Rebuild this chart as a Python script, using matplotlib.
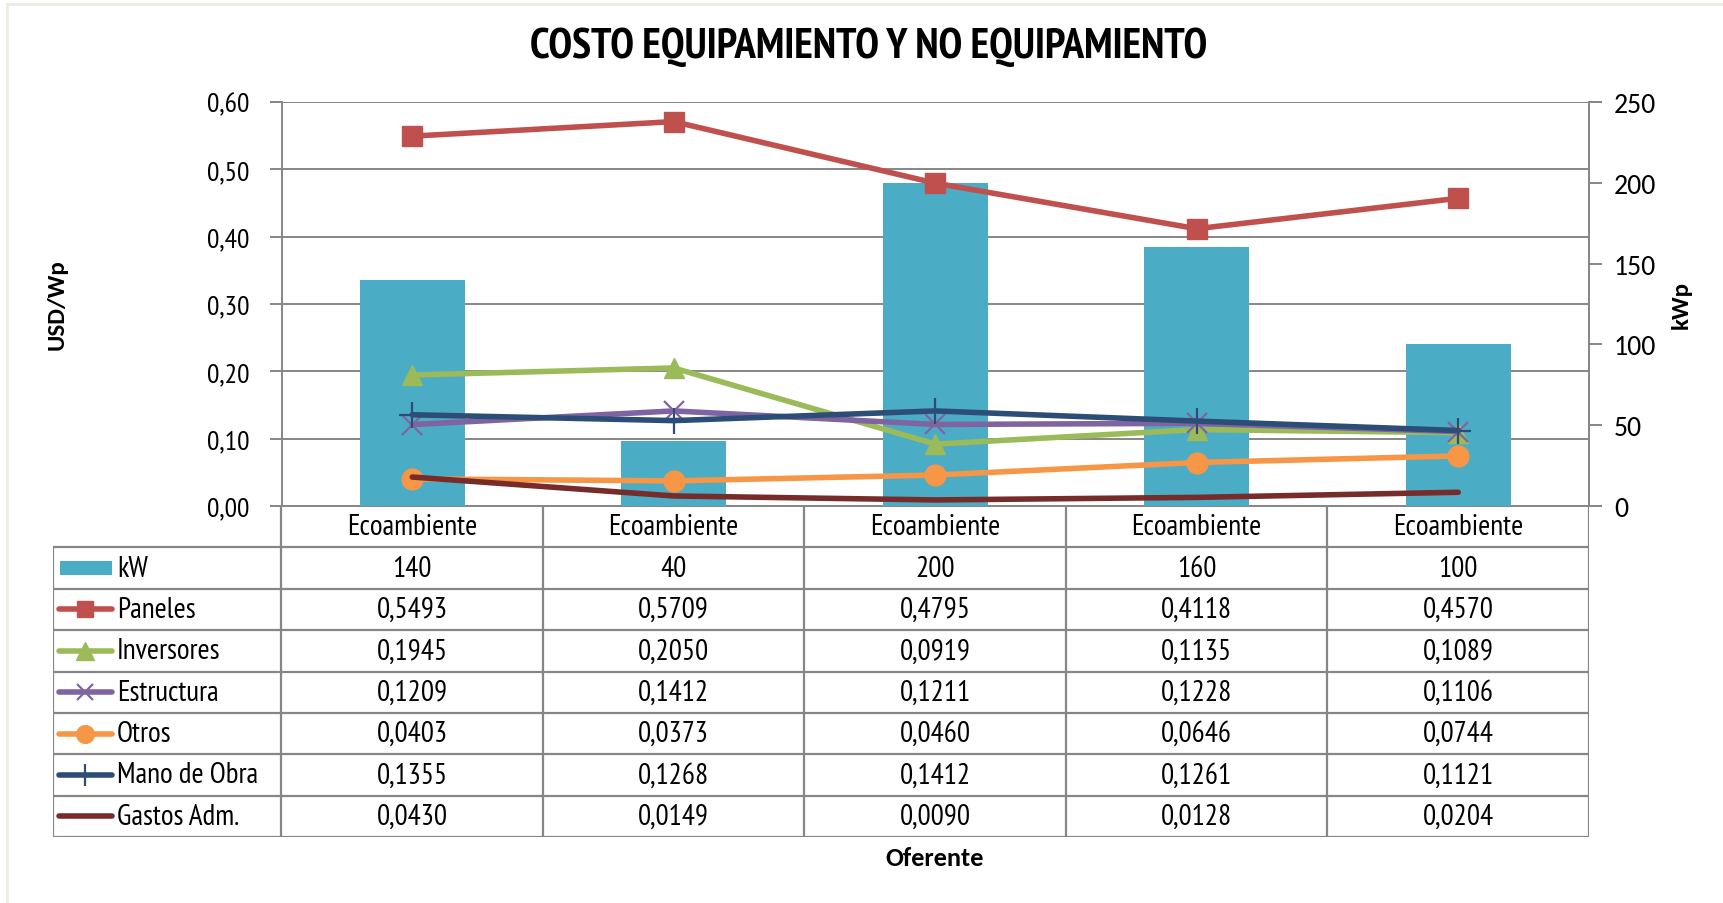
import matplotlib
matplotlib.use('Agg')
from matplotlib import pyplot as plt
from matplotlib import font_manager
from matplotlib.patches import Rectangle
from matplotlib.lines import Line2D
from matplotlib.ticker import FuncFormatter, MultipleLocator
import numpy as np

# data
categories = ['Ecoambiente', 'Ecoambiente', 'Ecoambiente', 'Ecoambiente', 'Ecoambiente']
kw = [140, 40, 200, 160, 100]
paneles = [0.5493, 0.5709, 0.4795, 0.4118, 0.4570]
inversores = [0.1945, 0.2050, 0.0919, 0.1135, 0.1089]
estructura = [0.1209, 0.1412, 0.1211, 0.1228, 0.1106]
otros = [0.0403, 0.0373, 0.0460, 0.0646, 0.0744]
mano_obra = [0.1355, 0.1268, 0.1412, 0.1261, 0.1121]
gastos = [0.0430, 0.0149, 0.0090, 0.0128, 0.0204]

series = [
    ('Paneles', paneles, '#C0504D', 's', 14, 1.0),
    ('Inversores', inversores, '#9BBB59', '^', 15, 1.0),
    ('Estructura', estructura, '#8064A2', 'x', 14, 1.6),
    ('Otros', otros, '#F79646', 'o', 15, 1.0),
    ('Mano de Obra', mano_obra, '#2C4D75', '+', 19, 1.6),
    ('Gastos Adm.', gastos, '#772C2A', None, 0, 1.0),
]
bar_color = '#4BACC6'
grid_color = '#868686'

installed = set(f.name for f in font_manager.fontManager.ttflist)


def pick(prefs):
    for p in prefs:
        if p in installed:
            return p
    return 'DejaVu Sans'


narrow = pick(['PT Sans Narrow', 'Roboto Condensed', 'Archivo Narrow', 'Liberation Sans Narrow',
               'IBM Plex Sans Condensed', 'Open Sans Condensed'])
wide = pick(['Carlito', 'Open Sans', 'Liberation Sans'])

W, H = 1724, 904
fig = plt.figure(figsize=(W / 100, H / 100), dpi=100)
fig.patch.set_facecolor('white')

# faint outer frame (top and left edges visible)
fig.add_artist(Line2D([7 / W, 1], [1 - 5 / H, 1 - 5 / H], color='#EEECE1', lw=2))
fig.add_artist(Line2D([7 / W, 7 / W], [0, 1 - 5 / H], color='#EEECE1', lw=2))

left, right, top, bottom = 281.5, 1589, 103, 507
ax = fig.add_axes([left / W, 1 - bottom / H, (right - left) / W, (bottom - top) / H])
x = np.arange(len(categories))

# grid / left axis
ax.set_xlim(-0.5, len(categories) - 0.5)
ax.set_ylim(0, 0.6)
ax.yaxis.set_major_locator(MultipleLocator(0.1))
ax.yaxis.set_major_formatter(FuncFormatter(lambda v, p: f'{v:.2f}'.replace('.', ',')))
ax.grid(axis='y', color=grid_color, lw=1.4)
ax.set_axisbelow(True)
ax.set_xticks([])
for s in ['top', 'right']:
    ax.spines[s].set_visible(False)
for s in ['left', 'bottom']:
    ax.spines[s].set_color(grid_color)
    ax.spines[s].set_linewidth(1.4)
ax.tick_params(axis='y', length=9, width=1.4, color=grid_color, pad=14, labelsize=20)
for t in ax.get_yticklabels():
    t.set_family(narrow)
ax.set_ylabel('USD/Wp', fontsize=18, fontweight='bold', family=wide, labelpad=0)
ax.yaxis.set_label_coords(-(left - 68) / (right - left), 0.5)

# bars on secondary axis
ax2 = ax.twinx()
ax2.bar(x, kw, width=0.4, color=bar_color, zorder=2)
ax2.set_ylim(0, 250)
ax2.yaxis.set_major_locator(MultipleLocator(50))
for s in ['top', 'left', 'bottom']:
    ax2.spines[s].set_visible(False)
ax2.spines['right'].set_color(grid_color)
ax2.spines['right'].set_linewidth(1.4)
ax2.tick_params(axis='y', length=9, width=1.4, color=grid_color, pad=9, labelsize=20)
for t in ax2.get_yticklabels():
    t.set_family(wide)
ax2.set_ylabel('kWp', fontsize=18, fontweight='bold', family=wide, rotation=90)
ax2.yaxis.set_label_coords(1 + (1671 - right) / (right - left), 0.5)

# lines on top
ax3 = ax.twinx()
ax3.set_ylim(0, 0.6)
ax3.set_xlim(ax.get_xlim())
ax3.axis('off')
for name, vals, col, mk, ms, mew in series:
    ax3.plot(x, vals, color=col, lw=4.0, marker=mk, ms=ms, mew=mew,
             solid_joinstyle='round', solid_capstyle='round', clip_on=False)

# data table below the plot
t_left, t_bottom = 53, 838
tax = fig.add_axes([t_left / W, 1 - t_bottom / H, (right - t_left) / W, (t_bottom - bottom) / H])
u = len(categories) / (right - left)
x0 = len(categories) - 0.5 - (right - t_left) * u
tax.set_xlim(x0, len(categories) - 0.5)
nrows = 2 + len(series)
tax.set_ylim(nrows, 0)
tax.axis('off')

lkw = dict(color=grid_color, lw=1.6, solid_capstyle='projecting')
for r in range(1, nrows + 1):
    tax.plot([x0, len(categories) - 0.5], [r, r], **lkw)
tax.plot([x0, x0], [1, nrows], **lkw)
for c in range(len(categories) + 1):
    tax.plot([c - 0.5, c - 0.5], [0, nrows], **lkw)

fs = 21
for i, cat in enumerate(categories):
    tax.text(i, 0.5, cat, ha='center', va='center', fontsize=fs, family=narrow)
    tax.text(i, 1.5, str(kw[i]), ha='center', va='center', fontsize=fs, family=narrow)
for r, (name, vals, col, mk, ms, mew) in enumerate(series, start=2):
    for i, v in enumerate(vals):
        tax.text(i, r + 0.5, f'{v:.4f}'.replace('.', ','), ha='center', va='center',
                 fontsize=fs, family=narrow)

# legend keys in first column
kx0 = x0 + 6 * u
kx1 = x0 + 59 * u
tx = x0 + 64 * u
tax.add_patch(Rectangle((x0 + 7 * u, 1.5 - 0.17), 52 * u, 0.34, color=bar_color, lw=0))
tax.text(tx, 1.5, 'kW', ha='left', va='center', fontsize=fs, family=narrow)
for r, (name, vals, col, mk, ms, mew) in enumerate(series, start=2):
    tax.plot([kx0, (kx0 + kx1) / 2, kx1], [r + 0.5] * 3, color=col, lw=4.0,
             marker=mk, ms=ms * 0.85, mew=mew, markevery=[1], solid_capstyle='round')
    tax.text(tx, r + 0.5, name, ha='left', va='center', fontsize=fs, family=narrow)

fig.text(935 / W, 1 - 859 / H, 'Oferente', ha='center', va='center',
         fontsize=19, fontweight='bold', family=wide)
fig.text(869 / W, 1 - 47 / H, 'COSTO EQUIPAMIENTO Y NO EQUIPAMIENTO', ha='center',
         va='center', fontsize=31, fontweight='bold', family=narrow)

fig.savefig('out.png', dpi=100, facecolor='white')
